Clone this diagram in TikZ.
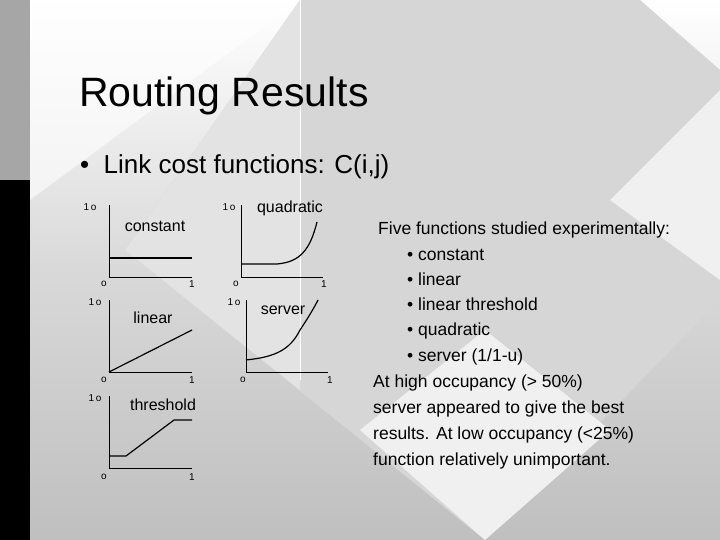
\documentclass[tikz,border=0pt]{standalone}
\usepackage{fontspec}
\setmainfont{Liberation Sans}
\begin{document}
\begin{tikzpicture}[x=1pt,y=-1pt,
  ax/.style={line width=0.9pt},
  fn/.style={line width=1.2pt},
  tick/.style={font=\fontsize{10}{10}\selectfont, inner sep=0pt},
  lbl/.style={font=\fontsize{16}{16}\selectfont, inner sep=0pt},
  body/.style={font=\fontsize{17.5}{17.5}\selectfont, inner sep=0pt, anchor=base west}]
\useasboundingbox (0,0) rectangle (720,540);
% background
\shade[top color=white, bottom color=gray!50, middle color=gray!30] (30,0) rectangle (720,540);
\shade[left color=white, right color=white, opacity=0.6] (30,0) -- (300,0) -- (30,200) -- cycle;
\fill[gray!32] (300,0) -- (125,250) -- (485,540) -- (720,300) -- (720,70) -- (640,0) -- cycle;
\fill[gray!22] (300,0) -- (125,250) -- (300,390) -- cycle;
\fill[gray!12] (720,90) -- (610,200) -- (720,280) -- cycle;
\fill[gray!12] (485,540) -- (360,430) -- (485,330) -- (610,430) -- cycle;
\draw[white, line width=0.8pt] (300,0) -- (300,380);
\fill[gray!70] (0,0) rectangle (30,180);
\fill[black] (0,180) rectangle (30,540);
% title
\node[anchor=base west, inner sep=0pt, font=\fontsize{41}{41}\selectfont] (title) at (79,107) {Routing Results};
\node[anchor=base west, inner sep=0pt, font=\fontsize{26}{26}\selectfont] (sub) at (80,174) {\textbullet\ \ Link cost functions: C(i,j)};
% constant
\draw[ax] (109,205) -- (109,277) -- (192,277);
\draw[fn] (109,258) -- (192,258);
\node[lbl] (lc) at (155,226) {constant};
\node[tick] (c1) at (90,207) {1\,o};
\node[tick] (c0) at (104,284) {o};
\node[tick] (c2) at (192,284) {1};
% quadratic
\draw[ax] (241,205) -- (241,277) -- (323,277);
\draw[fn] (241,264) -- (277,264) .. controls (300,262) and (310,250) .. (317,222);
\node[lbl] (lq) at (290,208) {quadratic};
\node[tick] (q1) at (229,207) {1\,o};
\node[tick] (q0) at (236,284) {o};
\node[tick] (q2) at (324,284) {1};
% linear
\draw[ax] (109,300) -- (109,372) -- (192,372);
\draw[fn] (109,372) -- (192,330);
\node[lbl] (ll) at (153,318) {linear};
\node[tick] (l1) at (95,302) {1\,o};
\node[tick] (l0) at (104,380) {o};
\node[tick] (l2) at (192,380) {1};
% server
\draw[ax] (246,300) -- (246,372) -- (328,372);
\draw[fn] (246,360) .. controls (275,357) and (290,350) .. (300,330) .. controls (308,318) and (314,308) .. (318,300);
\node[lbl] (ls) at (283,310) {server};
\node[tick] (s1) at (234,302) {1\,o};
\node[tick] (s0) at (243,380) {o};
\node[tick] (s2) at (330,380) {1};
% threshold
\draw[ax] (109,396) -- (109,468) -- (192,468);
\draw[fn] (109,456) -- (126,456) -- (174,420) -- (192,420);
\node[lbl] (lt) at (163,405) {threshold};
\node[tick] (t1) at (95,398) {1\,o};
\node[tick] (t0) at (104,477) {o};
\node[tick] (t2) at (192,477) {1};
% right text
\node[body] (r0) at (378,235) {Five functions studied experimentally:};
\node[body] (r1) at (407,260) {\textbullet\ constant};
\node[body] (r2) at (407,285) {\textbullet\ linear};
\node[body] (r3) at (407,310) {\textbullet\ linear threshold};
\node[body] (r4) at (407,335) {\textbullet\ quadratic};
\node[body] (r5) at (407,361) {\textbullet\ server (1/1-u)};
\node[body] (r6) at (373,387) {At high occupancy (> 50\%)};
\node[body] (r7) at (373,413) {server appeared to give the best};
\node[body] (r8) at (373,439) {results. At low occupancy (<25\%)};
\node[body] (r9) at (373,465) {function relatively unimportant.};
\end{tikzpicture}
\end{document}
